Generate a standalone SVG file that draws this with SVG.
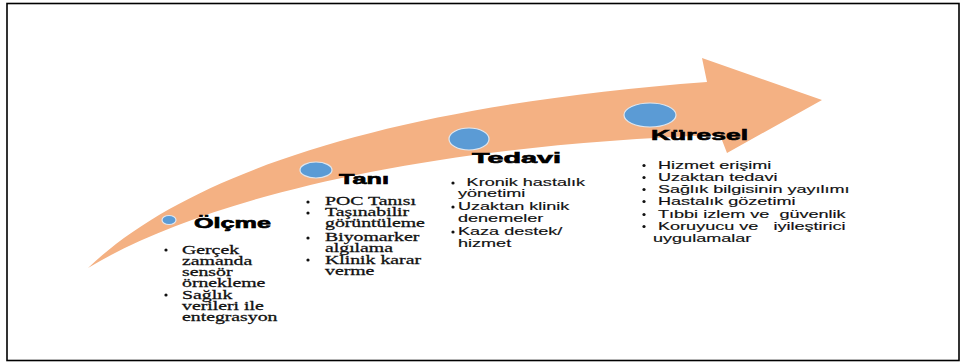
<svg xmlns="http://www.w3.org/2000/svg" width="965" height="364" viewBox="0 0 965 364">
<style>
.h{font-family:"Liberation Sans",Arial,sans-serif;font-weight:bold;font-size:14.5px;fill:#000;stroke:#000;stroke-width:0.6}
.sf{font-family:"Liberation Serif","Times New Roman",serif;font-size:11.5px;fill:#111;stroke:#111;stroke-width:0.25;white-space:pre}
.ss{font-family:"Liberation Sans",Arial,sans-serif;font-size:10.5px;fill:#111;stroke:#111;stroke-width:0.15;white-space:pre}
.dot{fill:#5B9BD5;stroke:#dfe6ee;stroke-width:1.2}
.b{fill:#111}
</style>
<rect x="0" y="0" width="965" height="364" fill="#fff"/>
<rect x="7" y="3.5" width="952" height="357" fill="none" stroke="#000" stroke-width="1.6"/>
<g id="connectors">
<path id="arrow" d="M88 268 C190 170 400 105 707 82 L702 58 L822 100 L727 153 L720 135 C420 145 200 200 88 268 Z" fill="#F4B183"/>
</g>
<g id="olcme">
<ellipse class="dot" cx="169" cy="220" rx="7" ry="4.5"/>
<text class="h" x="194" y="228" textLength="77" lengthAdjust="spacingAndGlyphs">Ölçme</text>
<circle class="b" cx="166" cy="250" r="1.6"/>
<circle class="b" cx="166" cy="295" r="1.6"/>
<g transform="translate(182 0) scale(1.72 1)">
<text class="sf" x="0" y="254">Gerçek</text>
<text class="sf" x="0" y="265">zamanda</text>
<text class="sf" x="0" y="276">sensör</text>
<text class="sf" x="0" y="287">örnekleme</text>
<text class="sf" x="0" y="299">Sağlık</text>
<text class="sf" x="0" y="310">verileri ile</text>
<text class="sf" x="0" y="321">entegrasyon</text>
</g>
</g>
<g id="tani">
<ellipse class="dot" cx="316" cy="170" rx="16" ry="8"/>
<text class="h" x="339" y="184" textLength="50" lengthAdjust="spacingAndGlyphs">Tanı</text>
<circle class="b" cx="308" cy="202" r="1.6"/>
<circle class="b" cx="308" cy="213" r="1.6"/>
<circle class="b" cx="308" cy="238" r="1.6"/>
<circle class="b" cx="308" cy="260" r="1.6"/>
<g transform="translate(325 0) scale(1.72 1)">
<text class="sf" x="0" y="205">POC Tanısı</text>
<text class="sf" x="0" y="216">Taşınabilir</text>
<text class="sf" x="0" y="227">görüntüleme</text>
<text class="sf" x="0" y="241">Biyomarker</text>
<text class="sf" x="0" y="252">algılama</text>
<text class="sf" x="0" y="264">Klinik karar</text>
<text class="sf" x="0" y="275">verme</text>
</g>
</g>
<g id="tedavi">
<ellipse class="dot" cx="469" cy="139" rx="20" ry="11"/>
<text class="h" x="472" y="163" textLength="89" lengthAdjust="spacingAndGlyphs">Tedavi</text>
<circle class="b" cx="453" cy="183" r="1.6"/>
<circle class="b" cx="453" cy="207" r="1.6"/>
<circle class="b" cx="453" cy="232" r="1.6"/>
<g transform="translate(458 0) scale(1.72 1)">
<text class="ss" x="5" y="186">Kronik hastalık</text>
<text class="ss" x="0" y="197">yönetimi</text>
<text class="ss" x="0" y="210">Uzaktan klinik</text>
<text class="ss" x="0" y="222">denemeler</text>
<text class="ss" x="0" y="235">Kaza destek/</text>
<text class="ss" x="0" y="247">hizmet</text>
</g>
</g>
<g id="kuresel">
<ellipse class="dot" cx="650" cy="115" rx="26" ry="12"/>
<text class="h" x="651" y="140" textLength="97" lengthAdjust="spacingAndGlyphs">Küresel</text>
<circle class="b" cx="644" cy="165.5" r="1.6"/>
<circle class="b" cx="644" cy="177.5" r="1.6"/>
<circle class="b" cx="644" cy="189.5" r="1.6"/>
<circle class="b" cx="644" cy="201.5" r="1.6"/>
<circle class="b" cx="644" cy="214.5" r="1.6"/>
<circle class="b" cx="644" cy="226.5" r="1.6"/>
<g transform="translate(658 0) scale(1.72 1)">
<text class="ss" x="0" y="169">Hizmet erişimi</text>
<text class="ss" x="0" y="181">Uzaktan tedavi</text>
<text class="ss" x="0" y="193">Sağlık bilgisinin yayılımı</text>
<text class="ss" x="0" y="205">Hastalık gözetimi</text>
<text class="ss" x="0" y="218">Tıbbi izlem ve  güvenlik</text>
<text class="ss" x="0" y="230">Koruyucu ve   iyileştirici</text>
<text class="ss" x="-2.9" y="242">uygulamalar</text>
</g>
</g>
</svg>
